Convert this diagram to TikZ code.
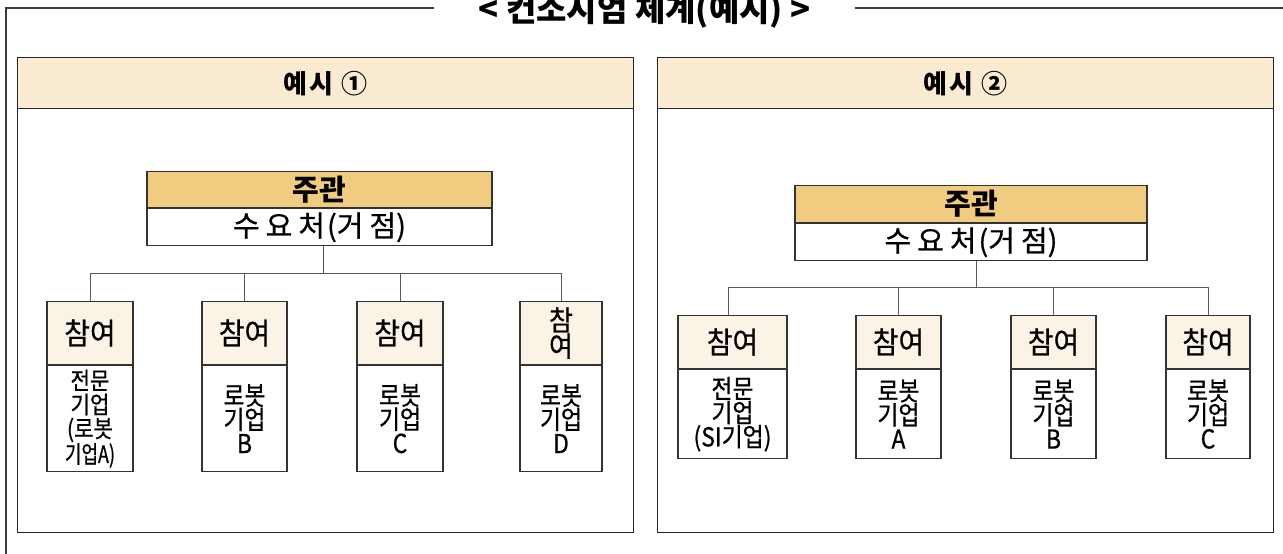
\documentclass[tikz,border=0pt]{standalone}
\usepackage{graphicx}
\usepackage{fontspec}
\setmainfont{Noto Sans CJK KR}
\newfontfamily\bodyfont[FakeStretch=0.88, FakeBold=0.7]{Noto Sans CJK KR}
\newfontfamily\chamfont[FakeStretch=0.93, FakeBold=0.7]{Noto Sans CJK KR}
\newfontfamily\sufont[FakeBold=0.8]{Noto Sans CJK KR}
\definecolor{panelfill}{HTML}{FAEBD2}
\definecolor{jgfill}{HTML}{F0CB80}
\definecolor{chfill}{HTML}{FBF3E5}
\definecolor{framec}{HTML}{3A3A3A}
\definecolor{connc}{HTML}{5A5A5A}
\tikzset{
  frameline/.style={draw=framec, line width=2pt},
  panelbox/.style={draw=black!85, line width=1.4pt, inner sep=0pt, anchor=north west, minimum width=616pt},
  panelhead/.style={panelbox, fill=panelfill, minimum height=51pt, font=\bfseries\fontsize{26}{28}\selectfont},
  jgtop/.style={draw=black!80, line width=1.2pt, fill=jgfill, inner sep=0pt, anchor=north, font=\bfseries\fontsize{29}{30}\selectfont},
  jgbot/.style={draw=black!80, line width=1.2pt, fill=white, inner sep=0pt, anchor=north, font=\sufont\fontsize{29}{30}\selectfont},
  chtop/.style={draw=black!80, line width=1.1pt, fill=chfill, inner sep=0pt, anchor=north, align=center, font=\chamfont\fontsize{30}{26}\selectfont},
  chbot/.style={draw=black!80, line width=1.1pt, fill=white, inner sep=0pt, anchor=north, align=center, font=\bodyfont\fontsize{26}{24}\selectfont},
  conn/.style={draw=connc, line width=0.9pt},
}
\begin{document}
\begin{tikzpicture}[x=1pt,y=-1pt]
\useasboundingbox (0,0) rectangle (1283,554);
% title and outer frame
\coordinate (ftl) at (6,8);
\node[font=\bfseries\fontsize{33}{35}\selectfont, inner xsep=44pt, inner ysep=0pt] (title) at (644.5,11) {< 컨소시엄 체계(예시) >};
\draw[frameline] (title.west |- ftl) -- (ftl) -- (6,600);
\draw[frameline] (title.east |- ftl) -- (1300,8);
% panels
\node[panelhead] (lph) at (17,57) {예\kern2pt 시\hspace{8pt}①};
\node[panelbox, minimum height=424pt] (lpb) at (17,108) {};
\node[panelhead] (rph) at (657,57) {예\kern2pt 시\hspace{8pt}②};
\node[panelbox, minimum height=424pt] (rpb) at (657,108) {};
% left example
\node[jgtop, minimum width=345pt, minimum height=36pt] (lj) at (319.5,171) {주관};
\node[jgbot, minimum width=345pt, minimum height=37pt] (ljb) at (lj.south) {수\kern6pt 요\kern6pt 처\kern2pt(거\kern6pt 점)};
\coordinate (lhub) at (323,273);
\node[chtop, minimum width=86pt, minimum height=63pt] (l1h) at (90,301) {참여};
\node[chbot, minimum width=86pt, minimum height=106pt, font=\bodyfont\fontsize{24}{24}\selectfont] (l1b) at (l1h.south) {전문\\기업\\(로봇\\\scalebox{0.85}[1]{기업A)}};
\node[chtop, minimum width=85pt, minimum height=63pt] (l2h) at (244.5,301) {참여};
\node[chbot, minimum width=85pt, minimum height=106pt] (l2b) at (l2h.south) {로봇\\기업\\B};
\node[chtop, minimum width=86pt, minimum height=63pt] (l3h) at (400,301) {참여};
\node[chbot, minimum width=86pt, minimum height=106pt] (l3b) at (l3h.south) {로봇\\기업\\C};
\node[chtop, minimum width=82pt, minimum height=63pt, font=\chamfont\fontsize{28}{25}\selectfont] (l4h) at (561,301) {참\\여};
\node[chbot, minimum width=82pt, minimum height=106pt] (l4b) at (l4h.south) {로봇\\기업\\D};
\draw[conn] ([xshift=3.5pt]ljb.south) -- (lhub);
\draw[conn] (l1h.north) -- (l1h.north |- lhub) -- (l4h.north |- lhub) -- (l4h.north);
\draw[conn] (l2h.north) -- (l2h.north |- lhub);
\draw[conn] (l3h.north) -- (l3h.north |- lhub);
% right example
\node[jgtop, minimum width=352pt, minimum height=37pt] (rj) at (971,185) {주관};
\node[jgbot, minimum width=352pt, minimum height=37pt] (rjb) at (rj.south) {수\kern6pt 요\kern6pt 처\kern2pt(거\kern6pt 점)};
\coordinate (rhub) at (976,287);
\node[chtop, minimum width=109pt, minimum height=53pt] (r1h) at (732.5,315) {참여};
\node[chbot, minimum width=109pt, minimum height=89pt] (r1b) at (r1h.south) {전문\\기업\\(SI기업)};
\node[chtop, minimum width=85pt, minimum height=53pt] (r2h) at (898.5,315) {참여};
\node[chbot, minimum width=85pt, minimum height=89pt] (r2b) at (r2h.south) {로봇\\기업\\A};
\node[chtop, minimum width=85pt, minimum height=53pt] (r3h) at (1053.5,315) {참여};
\node[chbot, minimum width=85pt, minimum height=89pt] (r3b) at (r3h.south) {로봇\\기업\\B};
\node[chtop, minimum width=84pt, minimum height=53pt] (r4h) at (1208,315) {참여};
\node[chbot, minimum width=84pt, minimum height=89pt] (r4b) at (r4h.south) {로봇\\기업\\C};
\draw[conn] ([xshift=5pt]rjb.south) -- (rhub);
\draw[conn] ([xshift=-4.5pt]r1h.north) -- ([xshift=-4.5pt]r1h.north |- rhub) -- (r4h.north |- rhub) -- (r4h.north);
\draw[conn] (r2h.north) -- (r2h.north |- rhub);
\draw[conn] (r3h.north) -- (r3h.north |- rhub);
\end{tikzpicture}
\end{document}
